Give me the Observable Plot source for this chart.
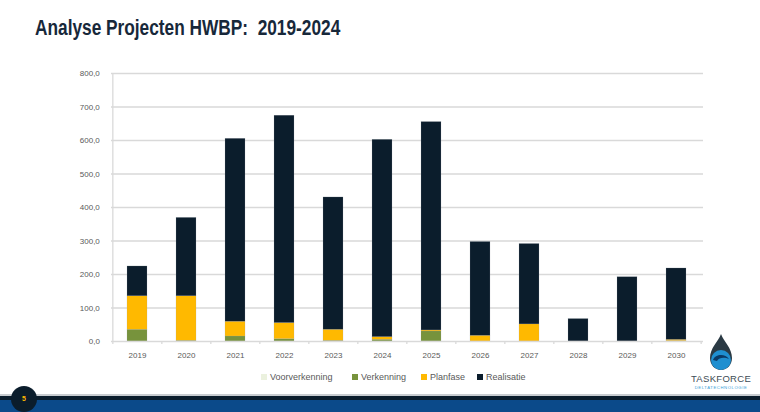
<!DOCTYPE html>
<html>
<head>
<meta charset="utf-8">
<script src="https://cdn.jsdelivr.net/npm/d3@7"></script>
<script src="https://cdn.jsdelivr.net/npm/@observablehq/plot@0.6"></script>
<style>
  html, body { margin: 0; padding: 0; background: #fff; }
  #wrap { position: relative; width: 760px; height: 412px; overflow: hidden; font-family: "Liberation Sans", Arial, sans-serif; }
  #title { position: absolute; left: 35px; top: 15px; font-size: 22px; font-weight: bold; color: #17283a; white-space: pre; transform: scaleX(0.785); transform-origin: 0 0; }
  #legend { position: absolute; left: 0; top: 372px; width: 760px; height: 12px; font-size: 9px; color: #595959; }
  .lg { position: absolute; top: 0; white-space: nowrap; }
  .sw { display: inline-block; width: 6px; height: 6px; margin-right: 3px; vertical-align: 0px; }
  #chart { position: absolute; left: 0; top: 0; }
  .foot-line { position: absolute; left: 0; width: 760px; }
  #page { position: absolute; left: 11px; top: 386px; width: 26px; height: 26px; border-radius: 13px; background: #0b1d2c; color: #ffb900; font-size: 7px; text-align: center; line-height: 26px; font-weight: bold; }
  #logo { position: absolute; left: 682px; top: 332px; width: 78px; height: 62px; }
</style>
</head>
<body>
<div id="wrap">
  <div id="chart"></div>
  <div id="title">Analyse Projecten HWBP:  2019-2024</div>
  <div id="legend"></div>
  <div class="foot-line" style="top:394px;height:2px;background:#c8ccd0"></div>
  <div class="foot-line" style="top:396px;height:4px;background:#0b1d2c"></div>
  <div class="foot-line" style="top:400px;height:12px;background:#0b4a8a"></div>
  <div id="page">5</div>
  <svg id="logo" viewBox="0 0 78 62">
    <path d="M39 2 C36 10 28 16 28 26 C28 33 33 38 39 38 C45 38 50 33 50 26 C50 16 42 10 39 2 Z" fill="#2b3a44"/>
    <circle cx="39" cy="28" r="10" fill="#1f8fd0"/>
    <path d="M31 28 C33 22 43 21 47 27 C43 25 37 25 35 29 Z" fill="#0b3a66"/>
    <text x="39" y="50" text-anchor="middle" font-size="9.5" fill="#3d4b55" font-family="Liberation Sans, Arial" letter-spacing="0.3">TASKFORCE</text>
    <text x="39" y="57" text-anchor="middle" font-size="4.2" fill="#3aa0d8" font-family="Liberation Sans, Arial" letter-spacing="0.6">DELTATECHNOLOGIE</text>
  </svg>
</div>
<script>
// ---- data ----
const years = ["2019","2020","2021","2022","2023","2024","2025","2026","2027","2028","2029","2030"];
const series = ["Voorverkenning","Verkenning","Planfase","Realisatie"];
const voorverkenning = [0,0,0,0,0,0,0,0,0,0,0,0];
const verkenning     = [35,2,15,7,2,5,30,0,0,0,0,1];
const planfase       = [100,133,44,48,33,8,3,17,51,0,0,4];
const realisatie     = [89,234,546,619,395,589,622,280,240,67,192,213];
const yTicks = [0,100,200,300,400,500,600,700,800];
const colors = ["#ebf1de","#77933c","#ffb900","#0b1d2c"];

const valuesBySeries = [voorverkenning, verkenning, planfase, realisatie];
const rows = [];
series.forEach((s, si) => years.forEach((y, yi) => rows.push({year: y, series: s, value: valuesBySeries[si][yi]})));

const W = 760, H = 412;
const mL = 111, mR = 57, mT = 73, mB = 71;
const step = (W - mL - mR) / years.length;
const fmt = d => d.toFixed(1).replace(".", ",");

const chart = Plot.plot({
  width: W, height: H,
  marginLeft: mL, marginRight: mR, marginTop: mT, marginBottom: mB,
  style: {fontFamily: "'Liberation Sans', Arial, sans-serif", fontSize: "8px", color: "#595959", background: "transparent"},
  x: {type: "band", domain: years, paddingInner: 0.59, paddingOuter: 0.295, label: null, axis: null},
  y: {type: "linear", domain: [0, 800], label: null, axis: null},
  color: {domain: series, range: colors},
  marks: [
    Plot.ruleY(yTicks.filter(d => d > 0), {y: d => d, stroke: "#d9d9d9", strokeWidth: 1.3}),
    Plot.barY(rows, {x: "year", y: "value", fill: "series", order: series, stroke: "#9aa3aa", strokeWidth: 0.3, strokeOpacity: 0.6}),
    Plot.ruleX([years[0]], {x: d => d, dx: -step / 2, y1: 0, y2: 800, stroke: "#d9d9d9", strokeWidth: 1.3}),
    Plot.ruleY([0], {y: d => d, stroke: "#d9d9d9", strokeWidth: 1.3}),
    Plot.ruleX(years, {x: d => d, y1: 0, y2: -9, dx: -step / 2, stroke: "#d9d9d9", strokeWidth: 1.3}),
    Plot.ruleX([years[years.length - 1]], {x: d => d, y1: 0, y2: -9, dx: step / 2, stroke: "#d9d9d9", strokeWidth: 1.3}),
    Plot.text(yTicks, {x: () => years[0], y: d => d, text: fmt, dx: -step / 2 - 13, textAnchor: "end", fill: "#595959", fontSize: 8}),
    Plot.text(years, {x: d => d, y: () => 0, text: d => d, dy: 14, fill: "#595959", fontSize: 8})
  ]
});
document.getElementById("chart").appendChild(chart);

// legend
const legendPos = [261, 352, 421, 477];
const lg = document.getElementById("legend");
series.forEach((s, i) => {
  const el = document.createElement("div");
  el.className = "lg";
  el.style.left = legendPos[i] + "px";
  el.innerHTML = `<span class="sw" style="background:${colors[i]}"></span>${s}`;
  lg.appendChild(el);
});
</script>
</body>
</html>
